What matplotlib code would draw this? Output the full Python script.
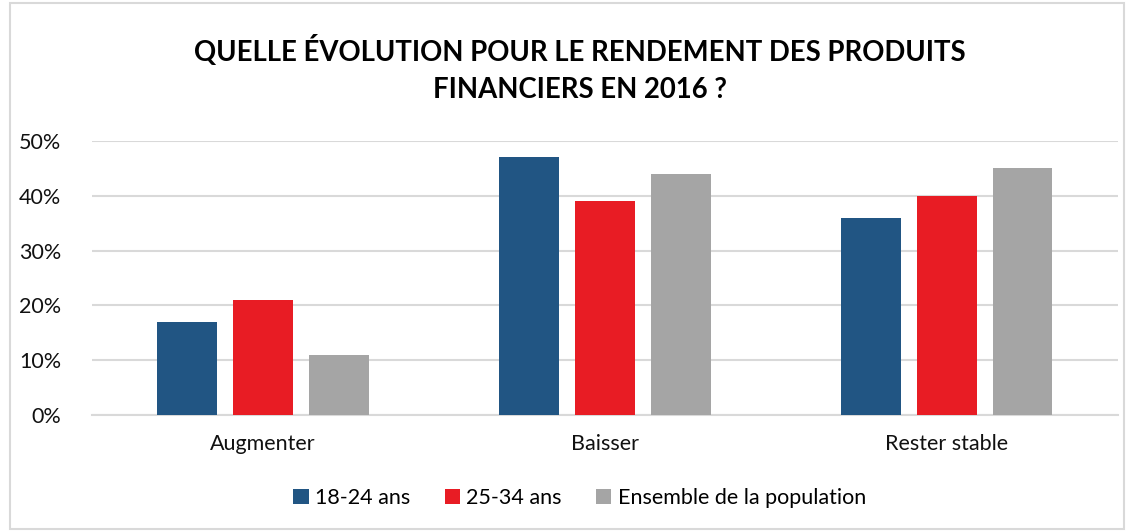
import matplotlib.pyplot as plt
import numpy as np
from matplotlib.patches import Rectangle
from matplotlib.ticker import PercentFormatter

plt.rcParams['font.family'] = ['Lato', 'DejaVu Sans']

categories = ["Augmenter", "Baisser", "Rester stable"]
series = ["18-24 ans", "25-34 ans", "Ensemble de la population"]
v_18_24 = [0.17, 0.47, 0.36]
v_25_34 = [0.21, 0.39, 0.40]
v_ensemble = [0.11, 0.44, 0.45]
colors = ["#215583", "#e81c24", "#a5a5a5"]

fig = plt.figure(figsize=(11.3, 5.31), dpi=100)
ax = fig.add_axes([0.0814, 0.2185, 0.9076, 0.516])

x = np.arange(len(categories))
w = 0.175
step = 0.222
for i, (vals, name) in enumerate(zip([v_18_24, v_25_34, v_ensemble], series)):
    ax.bar(x + (i - 1) * step, vals, width=w, color=colors[i], label=name, zorder=3)

ax.set_xlim(-0.5, 2.5)
ax.set_ylim(0, 0.5)
ax.set_yticks(np.arange(0, 0.51, 0.1))
ax.yaxis.set_major_formatter(PercentFormatter(1.0, decimals=0))
ax.set_xticks(x)
ax.set_xticklabels(categories)
ax.grid(axis='y', color='#d9d9d9', linewidth=1.5, zorder=0)
for s in ['top', 'right', 'left']:
    ax.spines[s].set_visible(False)
ax.spines['bottom'].set_color('#d9d9d9')
ax.spines['bottom'].set_linewidth(1.5)
ax.tick_params(axis='both', length=0, labelsize=15.5, colors='#111111')
ax.tick_params(axis='y', pad=22)
ax.tick_params(axis='x', pad=14)

fig.text(0.513, 0.905, "QUELLE ÉVOLUTION POUR LE RENDEMENT DES PRODUITS",
         ha='center', va='center', fontsize=19.8, fontweight='bold')
fig.text(0.513, 0.83, "FINANCIERS EN 2016 ?",
         ha='center', va='center', fontsize=19.8, fontweight='bold')

fig.legend(loc='center', bbox_to_anchor=(0.513, 0.062), ncol=3, frameon=False,
           fontsize=15.5, handlelength=0.7, handleheight=0.7, handletextpad=0.3,
           columnspacing=1.6)

fig.patches.append(Rectangle((0.009, 0.004), 0.986, 0.99, transform=fig.transFigure,
                             fill=False, edgecolor='#d9d9d9', linewidth=1.5))

fig.savefig("out.png", dpi=100)
